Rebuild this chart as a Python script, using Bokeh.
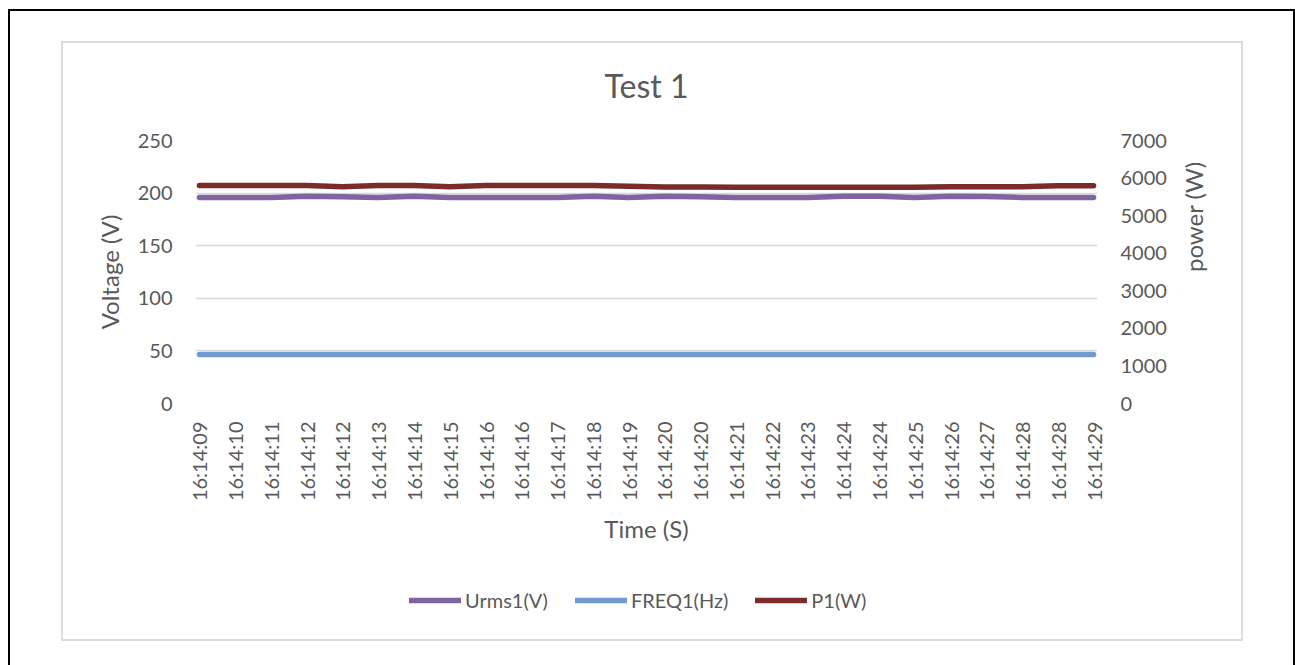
from math import pi

from bokeh.embed import file_html
from bokeh.layouts import column
from bokeh.models import (FixedTicker, InlineStyleSheet, Legend, LegendItem,
                          LinearAxis, Range1d)
from bokeh.plotting import figure
from bokeh.resources import INLINE

# Sample timestamps (some seconds were logged twice)
times = ["16:14:09", "16:14:10", "16:14:11", "16:14:12", "16:14:12", "16:14:13",
         "16:14:14", "16:14:15", "16:14:16", "16:14:16", "16:14:17", "16:14:18",
         "16:14:19", "16:14:20", "16:14:20", "16:14:21", "16:14:22", "16:14:23",
         "16:14:24", "16:14:24", "16:14:25", "16:14:26", "16:14:27", "16:14:28",
         "16:14:28", "16:14:29"]

# RMS voltage (V), left axis
urms_v = [195.9, 195.9, 195.9, 197.1, 196.6, 195.9, 197.0, 195.9, 195.9, 195.9,
          195.9, 197.1, 195.9, 197.1, 196.6, 195.9, 195.9, 195.9, 197.0, 197.0,
          195.9, 197.0, 196.8, 195.9, 195.9, 195.9]

# Frequency (Hz), left axis
freq_hz = [46.5, 46.5, 46.5, 46.5, 46.5, 46.5, 46.5, 46.5, 46.5, 46.5,
           46.5, 46.5, 46.5, 46.5, 46.5, 46.5, 46.5, 46.5, 46.5, 46.5,
           46.5, 46.5, 46.5, 46.5, 46.5, 46.5]

# Active power (W), right axis
p1_w = [5800, 5800, 5800, 5800, 5770, 5800, 5800, 5770, 5800, 5800,
        5800, 5800, 5780, 5760, 5760, 5755, 5755, 5755, 5755, 5755,
        5755, 5770, 5770, 5770, 5795, 5795]

series_names = ["Urms1(V)", "FREQ1(Hz)", "P1(W)"]
series_colors = ["#8064A2", "#709BD0", "#7B2C2A"]

y_ticks = [0, 50, 100, 150, 200, 250]
power_ticks = [0, 1000, 2000, 3000, 4000, 5000, 6000, 7000]

TEXT = "#595959"
FONT = "Lato"
GRID = "#D9D9D9"
LINE_W = 5.5

idx = list(range(len(times)))

# ---- main chart -----------------------------------------------------------
p = figure(frame_width=902, frame_height=263,
           output_backend="svg", toolbar_location=None,
           x_range=Range1d(-0.11, len(times) - 1 + 0.11),
           y_range=Range1d(0, 250),
           min_border_left=195, min_border_right=198,
           min_border_top=140, min_border_bottom=172,
           background_fill_color="white", border_fill_color="white")
p.outline_line_color = None
p.extra_y_ranges = {"power": Range1d(0, 7000)}

p.title.text = "Test 1"
p.title.align = "center"
p.title.text_font = FONT
p.title.text_font_size = "32px"
p.title.text_font_style = "normal"
p.title.text_color = TEXT
p.title.standoff = 72

p.xgrid.grid_line_color = None
p.ygrid.grid_line_color = GRID
p.ygrid.grid_line_width = 1.3


def style_axis(ax):
    ax.axis_line_color = None
    ax.major_tick_line_color = None
    ax.minor_tick_line_color = None
    ax.major_tick_out = 0
    ax.major_tick_in = 0
    ax.major_label_text_font = FONT
    ax.major_label_text_font_size = "20px"
    ax.major_label_text_color = TEXT
    ax.axis_label_text_font = FONT
    ax.axis_label_text_font_size = "24px"
    ax.axis_label_text_font_style = "normal"
    ax.axis_label_text_color = TEXT


yax = p.yaxis[0]
yax.ticker = FixedTicker(ticks=y_ticks)
yax.axis_label = "Voltage (V)"
style_axis(yax)
yax.major_label_standoff = 23
yax.axis_label_standoff = 11

# right axis, label reading bottom-to-top like the left one
rax = LinearAxis(y_range_name="power", ticker=FixedTicker(ticks=power_ticks),
                 axis_label="power (W)")
style_axis(rax)
rax.major_label_standoff = 23
rax.axis_label_standoff = 24
if hasattr(rax, "axis_label_orientation"):
    rax.axis_label_orientation = pi / 2
p.add_layout(rax, "right")

xax = p.xaxis[0]
xax.ticker = FixedTicker(ticks=idx)
xax.major_label_overrides = {i: t for i, t in zip(idx, times)}
xax.major_label_orientation = pi / 2
xax.axis_label = "Time (S)"
style_axis(xax)
xax.major_label_standoff = 18
xax.axis_label_standoff = 10

p.line(idx, urms_v, line_color=series_colors[0], line_width=LINE_W,
       line_cap="round", line_join="round")
p.line(idx, freq_hz, line_color=series_colors[1], line_width=LINE_W,
       line_cap="round", line_join="round")
p.line(idx, p1_w, y_range_name="power", line_color=series_colors[2],
       line_width=LINE_W, line_cap="round", line_join="round")

# outer frame and chart-area border drawn over the canvases
p.stylesheets = [InlineStyleSheet(css="""
:host { position: relative; }
:host::before {
  content: ""; position: absolute; left: 8px; top: 9px;
  width: 1287px; height: 720px; box-sizing: border-box;
  border: 2px solid #000; pointer-events: none; z-index: 10;
}
:host::after {
  content: ""; position: absolute; left: 61px; top: 41px;
  width: 1182px; height: 600px; box-sizing: border-box;
  border: 2px solid #DCDCDC; pointer-events: none; z-index: 10;
}
""")]

# ---- legend strip under the chart (its frame lines up with the chart's) ----
leg = figure(width=1295, height=90,
             output_backend="svg", toolbar_location=None,
             x_range=Range1d(0, 1), y_range=Range1d(0, 1),
             x_axis_type=None, y_axis_type=None,
             min_border=0, background_fill_color="white",
             border_fill_color="white", align="start")
leg.title = None
leg.outline_line_color = None
leg.xgrid.visible = False
leg.ygrid.visible = False

# legend key renderers: styled like the series, kept outside the visible range
items = []
for name, color in zip(series_names, series_colors):
    r = leg.line([-10, -9], [-10, -9], line_color=color, line_width=LINE_W,
                 line_cap="round")
    items.append(LegendItem(label=name, renderers=[r]))

legend = Legend(items=items, orientation="horizontal", location=(214, 53),
                glyph_width=52, glyph_height=20, label_standoff=4, spacing=27,
                padding=0, margin=0,
                border_line_color=None, background_fill_alpha=0,
                label_text_font=FONT, label_text_font_size="20px",
                label_text_color=TEXT)
leg.add_layout(legend)

p.align = "start"
page = column(p, leg, spacing=0)
open("out.html", "w").write(file_html(page, INLINE))
